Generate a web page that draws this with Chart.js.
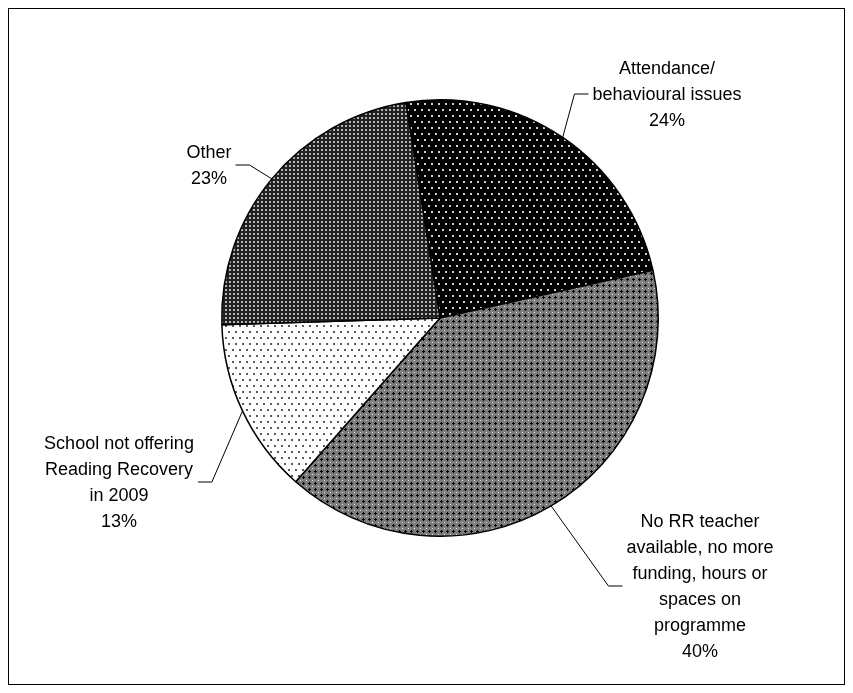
<!DOCTYPE html>
<html>
<head>
<meta charset="utf-8">
<script src="https://cdn.jsdelivr.net/npm/chart.js@4.4.1/dist/chart.umd.min.js"></script>
<style>
  html, body { margin: 0; padding: 0; background: #fff; }
</style>
</head>
<body>
<canvas id="pieChart" width="853" height="693"></canvas>
<script>
// slice names (as they wrap in the labels), values and the printed percentages
const categories = [
  ["Attendance/", "behavioural issues"],
  ["No RR teacher", "available, no more", "funding, hours or", "spaces on", "programme"],
  ["School not offering", "Reading Recovery", "in 2009"],
  ["Other"]
];
const shares = [24, 40, 13, 23];
const percentLabels = ["24%", "40%", "13%", "23%"];

// where each label sits: centre x, baseline of first line, which side the leader leaves from
const labelLayout = [
  { x: 667, y: 74, side: "left" },
  { x: 700, y: 527, side: "left" },
  { x: 119, y: 449, side: "right" },
  { x: 209, y: 158, side: "right" }
];
const FONT = '18px "Liberation Sans", Arial, sans-serif';
const LINE_H = 26;

// fill patterns, like the old excel hatches
function makePattern(w, h, draw) {
  const c = document.createElement("canvas");
  c.width = w; c.height = h;
  const g = c.getContext("2d");
  draw(g);
  return document.getElementById("pieChart").getContext("2d").createPattern(c, "repeat");
}
const fills = [
  makePattern(7, 12, g => {           // black, white dots
    g.fillStyle = "#000"; g.fillRect(0, 0, 7, 12);
    g.fillStyle = "#d0d0d0";
    g.fillRect(1, 1, 2, 2); g.fillRect(4, 7, 2, 2);
  }),
  makePattern(6, 6, g => {            // grey cross hatch
    g.fillStyle = "#7c7c7c"; g.fillRect(0, 0, 6, 6);
    g.fillStyle = "#000";
    g.fillRect(2, 3, 3, 1); g.fillRect(3, 2, 1, 3);
    g.fillStyle = "#e8e8e8"; g.fillRect(0, 0, 1, 1);
  }),
  makePattern(7, 12, g => {           // white, grey dots
    g.fillStyle = "#fff"; g.fillRect(0, 0, 7, 12);
    g.fillStyle = "#5a5a5a";
    g.fillRect(1, 1, 2, 2); g.fillRect(4, 7, 2, 2);
  }),
  makePattern(4, 4, g => {            // dark grey, light squares
    g.fillStyle = "#222"; g.fillRect(0, 0, 4, 4);
    g.fillStyle = "#b5b5b5"; g.fillRect(1, 1, 2, 2);
  })
];

const labelPlugin = {
  id: "calloutLabels",
  afterDraw(chart) {
    const ctx = chart.ctx;
    const arcs = chart.getDatasetMeta(0).data;
    ctx.save();
    ctx.font = FONT;
    ctx.fillStyle = "#000";
    ctx.textAlign = "center";
    ctx.textBaseline = "alphabetic";
    arcs.forEach((arc, i) => {
      const lay = labelLayout[i];
      const lines = categories[i].concat([percentLabels[i]]);
      let maxW = 0;
      lines.forEach((t, k) => {
        ctx.fillText(t, lay.x, lay.y + k * LINE_H);
        maxW = Math.max(maxW, ctx.measureText(t).width);
      });
      // leader line: label side -> short horizontal -> slice edge at mid angle
      const p = arc.getProps(["x", "y", "startAngle", "endAngle", "outerRadius"], true);
      const mid = (p.startAngle + p.endAngle) / 2;
      const ex = p.x + Math.cos(mid) * p.outerRadius;
      const ey = p.y + Math.sin(mid) * p.outerRadius;
      const dir = lay.side === "left" ? -1 : 1;
      const sx = lay.x + dir * (maxW / 2 + 4);
      const sy = (lay.y - 13 + lay.y + (lines.length - 1) * LINE_H) / 2;
      ctx.beginPath();
      ctx.lineWidth = 1;
      ctx.strokeStyle = "#000";
      ctx.moveTo(sx, sy + 0.5);
      ctx.lineTo(sx + dir * 14, sy + 0.5);
      ctx.lineTo(ex, ey);
      ctx.stroke();
    });
    // chart frame
    ctx.strokeRect(8.5, 8.5, 836, 676);
    ctx.restore();
  }
};

new Chart(document.getElementById("pieChart"), {
  type: "pie",
  data: {
    labels: categories.map(c => c.join(" ")),
    datasets: [{
      data: shares,
      backgroundColor: fills,
      borderColor: "#000",
      borderWidth: 1.5,
      hoverOffset: 0
    }]
  },
  options: {
    responsive: false,
    animation: false,
    events: [],
    rotation: -9,
    layout: { padding: { left: 221, right: 194, top: 99, bottom: 156 } },
    plugins: {
      legend: { display: false },
      tooltip: { enabled: false }
    }
  },
  plugins: [labelPlugin]
});
</script>
</body>
</html>
